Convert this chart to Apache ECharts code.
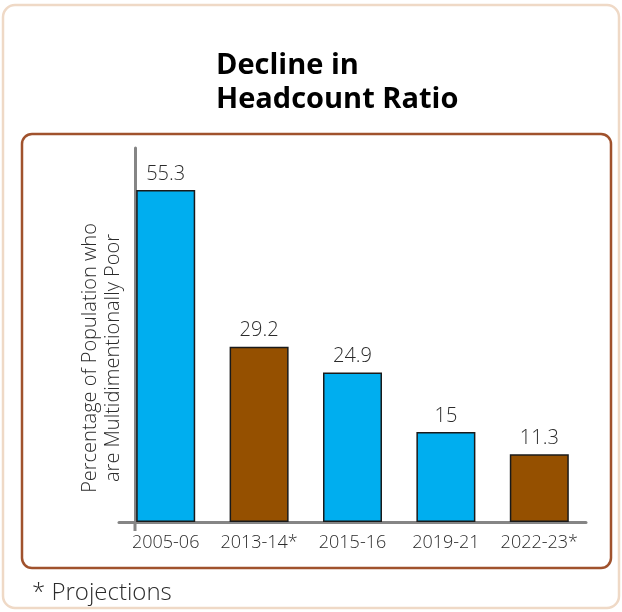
<!DOCTYPE html>
<html>
<head>
<meta charset="utf-8">
<script src="https://cdn.jsdelivr.net/npm/echarts@6/dist/echarts.min.js"></script>
<style>
  html, body { margin: 0; padding: 0; background: #fff; }
  #chart { width: 622px; height: 612px; }
</style>
</head>
<body>
<div id="chart"></div>
<script>
// Survey rounds; an asterisk marks a projected value
const categories = ['2005-06', '2013-14*', '2015-16', '2019-21', '2022-23*'];
// Headcount ratio (% of population multidimensionally poor)
const values = [55.3, 29.2, 24.9, 15, 11.3];

const surveyColor = '#00aeef';
const projectionColor = '#955000';
const textColor = '#2b2b2b';
const uiFont = '"Open Sans", "Noto Sans", sans-serif';

const chart = echarts.init(document.getElementById('chart'), null, { renderer: 'canvas' });

const barData = values.map((v, i) => ({
  value: v,
  itemStyle: { color: categories[i].endsWith('*') ? projectionColor : surveyColor }
}));

chart.setOption({
  backgroundColor: '#ffffff',
  animation: false,
  title: {
    text: 'Decline in\nHeadcount Ratio',
    left: 211,
    top: 44,
    textStyle: {
      fontFamily: uiFont,
      fontWeight: 'bold',
      fontSize: 29,
      lineHeight: 34,
      color: '#000'
    }
  },
  grid: { left: 119, right: 36, top: 148, bottom: 90 },
  xAxis: {
    type: 'category',
    data: categories,
    axisLine: { lineStyle: { color: '#858585', width: 3 } },
    axisTick: { show: false },
    axisLabel: {
      interval: 0,
      margin: 12,
      fontFamily: uiFont,
      fontWeight: 300,
      fontSize: 18,
      color: textColor
    }
  },
  yAxis: {
    type: 'value',
    min: 0,
    max: 62.3,
    offset: -16,
    splitLine: { show: false },
    axisTick: { show: false },
    axisLabel: { show: false },
    axisLine: { show: true, lineStyle: { color: '#858585', width: 3 } },
    name: 'Percentage of Population who\nare Multidimentionally Poor',
    nameLocation: 'middle',
    nameGap: 10,
    nameRotate: 90,
    nameTextStyle: {
      fontFamily: uiFont,
      fontWeight: 300,
      fontSize: 20,
      lineHeight: 23,
      color: textColor,
      padding: [0, 46, 0, 0]
    }
  },
  series: [{
    type: 'bar',
    data: barData,
    barWidth: 59,
    itemStyle: { borderColor: '#1a1a1a', borderWidth: 1.5 },
    label: {
      show: true,
      position: 'top',
      distance: 6,
      fontFamily: uiFont,
      fontWeight: 300,
      fontSize: 20,
      color: textColor
    }
  }],
  graphic: [
    {
      type: 'rect',
      silent: true,
      z: -10,
      shape: { x: 3, y: 5, width: 616, height: 603, r: 12 },
      style: { fill: 'none', stroke: '#efd9c6', lineWidth: 2.5 }
    },
    {
      type: 'rect',
      silent: true,
      z: -9,
      shape: { x: 22, y: 134, width: 589, height: 434, r: 10 },
      style: { fill: 'none', stroke: '#a0522d', lineWidth: 2.5 }
    },
    {
      // short stub of the value axis below the baseline
      type: 'line',
      silent: true,
      shape: { x1: 135, y1: 522, x2: 135, y2: 531 },
      style: { stroke: '#858585', lineWidth: 3 }
    },
    {
      type: 'text',
      left: 32,
      top: 581,
      style: {
        text: '* Projections',
        font: '300 24px ' + uiFont,
        fill: textColor
      }
    }
  ]
});
</script>
</body>
</html>
